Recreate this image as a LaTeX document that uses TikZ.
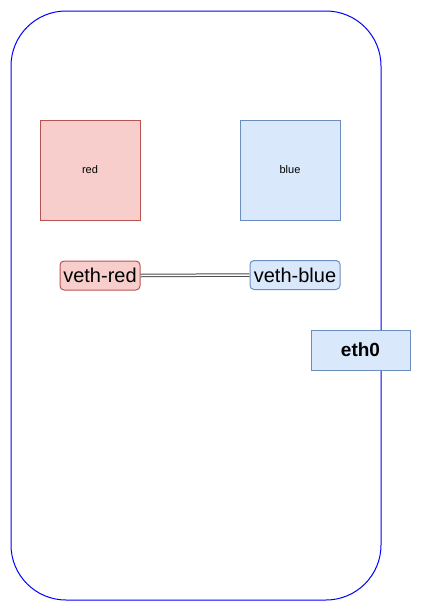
\documentclass[tikz,border=0pt]{standalone}
\usepackage{fontspec}
\setmainfont{Liberation Sans}
\definecolor{redfill}{HTML}{F8CECC}
\definecolor{redline}{HTML}{B85450}
\definecolor{bluefill}{HTML}{DAE8FC}
\definecolor{blueline}{HTML}{6C8EBF}
\definecolor{hostline}{HTML}{0000FF}
\begin{document}
\begin{tikzpicture}
	[x=1pt, y=-1pt, line width=1pt,
	every node/.style = {align=center, inner sep=0pt},
	ns/.style = {draw, minimum width=100pt, minimum height=100pt, font=\fontsize{11}{13}\selectfont},
	veth/.style = {draw, rounded corners=4pt, minimum height=29pt, font=\fontsize{20}{22}\selectfont},
	nic/.style = {draw=blueline, fill=bluefill, minimum width=99pt, minimum height=40pt, font=\fontsize{19}{21}\selectfont\bfseries}]
	\useasboundingbox (0,0) rectangle (421,611);
	\draw[hostline] (11,11) [rounded corners=55pt] rectangle (381,600);
	\node[ns, fill=redfill, draw=redline] (red) at (90,170) {red};
	\node[ns, fill=bluefill, draw=blueline] (blue) at (290,170) {blue};
	\node[veth, fill=redfill, draw=redline, minimum width=80pt] (veth-red) at (100,275.5) {veth-red};
	\node[veth, fill=bluefill, draw=blueline, minimum width=90pt] (veth-blue) at (295,275) {veth-blue};
	\node[nic] (eth0) at (360.5,350) {eth0};
	\draw[black!70, double, double distance=1.5pt] (veth-red.east) -- (veth-blue.west);
\end{tikzpicture}
\end{document}
